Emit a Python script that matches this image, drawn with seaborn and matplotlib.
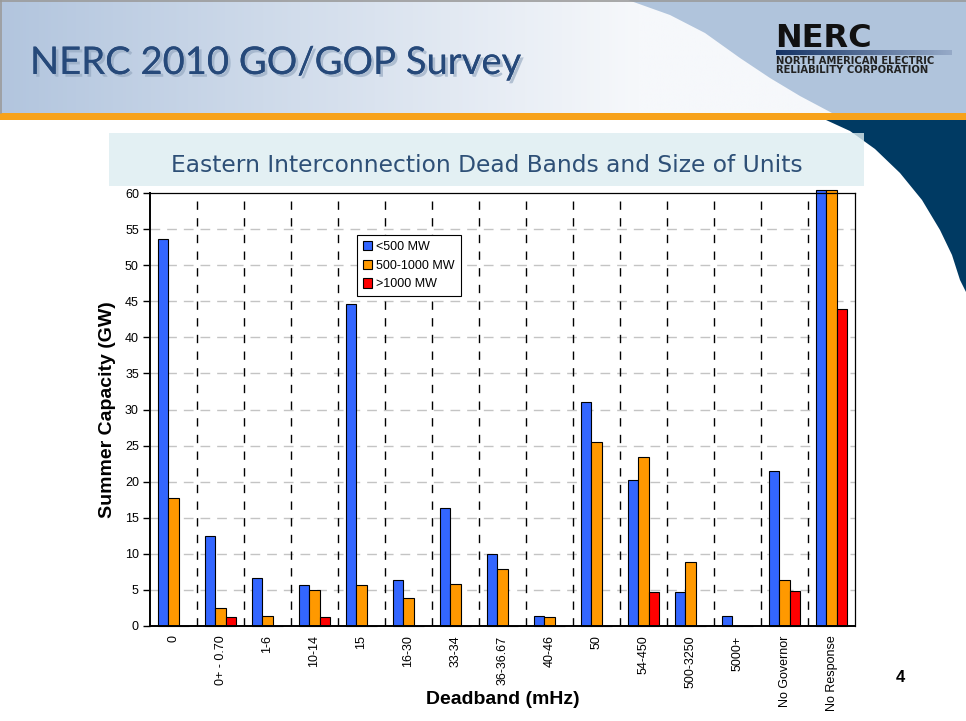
import numpy as np
import pandas as pd
import matplotlib
matplotlib.use("Agg")
import matplotlib.pyplot as plt
import seaborn as sns
from matplotlib.patches import Rectangle, Polygon
import matplotlib.patheffects as pe

# ---------------- data ----------------
categories = ["0", "0+ - 0.70", "1-6", "10-14", "15", "16-30", "33-34",
              "36-36.67", "40-46", "50", "54-450", "500-3250", "5000+",
              "No Governor", "No Response"]
lt500 = [53.7, 12.5, 6.6, 5.6, 44.6, 6.3, 16.4, 10.0, 1.4, 31.1, 20.2, 4.7, 1.4, 21.4, 60.4]
mid500_1000 = [17.7, 2.4, 1.3, 5.0, 5.6, 3.8, 5.8, 7.9, 1.2, 25.5, 23.4, 8.8, 0.0, 6.4, 60.4]
gt1000 = [0.0, 1.2, 0.0, 1.2, 0.0, 0.0, 0.0, 0.0, 0.0, 0.0, 4.7, 0.0, 0.0, 4.8, 43.9]
series_names = ["<500 MW", "500-1000 MW", ">1000 MW"]
series_colors = ["#3366FF", "#FF9900", "#FF0000"]
y_ticks = list(range(0, 65, 5))

df = pd.DataFrame({
    "Deadband": categories * 3,
    "Size": [series_names[0]] * 15 + [series_names[1]] * 15 + [series_names[2]] * 15,
    "Capacity": lt500 + mid500_1000 + gt1000,
})

sns.set_style("white")
plt.rcParams["font.family"] = ["Liberation Sans", "DejaVu Sans"]
plt.rcParams["text.color"] = "black"
plt.rcParams["axes.labelcolor"] = "black"
plt.rcParams["xtick.color"] = "black"
plt.rcParams["ytick.color"] = "black"

W, H = 966, 721
fig = plt.figure(figsize=(W / 100, H / 100), dpi=100)
fig.patch.set_facecolor("white")

# ---------------- slide background ----------------
bg = fig.add_axes([0, 0, 1, 1], zorder=0)
bg.set_xlim(0, W)
bg.set_ylim(H, 0)
bg.axis("off")

c0 = np.array([178, 197, 222]) / 255
c1 = np.array([246, 248, 251]) / 255
t = np.linspace(0, 1, 400)
t = np.clip(t / 0.66, 0, 1)
grad = (c0[None, :] * (1 - t[:, None]) + c1[None, :] * t[:, None])[None, :, :]
bg.imshow(grad, extent=[0, W, 113, 0], aspect="auto", zorder=0)
bg.add_patch(Polygon([(628, 0), (670, 15), (705, 33), (740, 58), (770, 78),
                      (800, 96), (832, 113), (W, 113), (W, 0)],
                     closed=True, facecolor="#B0C4DC", edgecolor="none", zorder=1))
bg.add_patch(Rectangle((0, 113), W, 7, facecolor="#F7A21B", edgecolor="none", zorder=2))
bg.add_patch(Polygon([(826, 120), (850, 131), (875, 149), (900, 173), (922, 200),
                      (940, 230), (952, 255), (960, 280), (W, 292), (W, 120)],
                     closed=True, facecolor="#003A63", edgecolor="none", zorder=1))
bg.add_patch(Rectangle((109, 133), 755, 53, facecolor="#DDEDF0", edgecolor="none",
                       alpha=0.8, zorder=3))
bg.plot([0, W], [0.5, 0.5], color="#9A9A9A", lw=1.2, zorder=4)
bg.plot([0.5, 0.5], [0, 113], color="#9A9A9A", lw=1.2, zorder=4)

# title
bg.text(30, 74, "NERC 2010 GO/GOP Survey", fontsize=27.5, family=["Lato", "DejaVu Sans"],
        color="#26497A", ha="left", va="baseline", zorder=5,
        path_effects=[pe.withSimplePatchShadow(offset=(2, -2), shadow_rgbFace="#8FA3BC", alpha=0.6),
                      pe.Normal()])

# logo
bg.text(775, 47, "NERC", fontsize=23, fontweight="bold", family=["DejaVu Sans"],
        color="#111111", ha="left", va="baseline", zorder=5)
lg = np.linspace(0, 1, 200)
lc0 = np.array([20, 50, 100]) / 255
lc1 = np.array([150, 170, 200]) / 255
lgrad = (lc0[None, :] * (1 - lg[:, None]) + lc1[None, :] * lg[:, None])[None, :, :]
bg.imshow(lgrad, extent=[776, 952, 55, 50], aspect="auto", zorder=5)
bg.text(776, 64, "NORTH AMERICAN ELECTRIC", fontsize=7.2, fontweight="bold",
        family=["DejaVu Sans"], color="#222222", ha="left", va="baseline", zorder=5)
bg.text(776, 73, "RELIABILITY CORPORATION", fontsize=7.2, fontweight="bold",
        family=["DejaVu Sans"], color="#222222", ha="left", va="baseline", zorder=5)

# chart subtitle
bg.text(487, 165, "Eastern Interconnection Dead Bands and Size of Units", fontsize=16.8,
        family=["DejaVu Sans"], color="#2E5077", ha="center", va="center", zorder=5)

# page number
bg.text(900, 677, "4", fontsize=12, fontweight="bold", ha="center", va="center", zorder=5)

# ---------------- chart ----------------
left, right, bottom, top = 150 / W, 855 / W, 1 - 625.7 / H, 1 - 193.3 / H
ax = fig.add_axes([left, bottom, right - left, top - bottom], zorder=2)
ax.set_facecolor("white")

for yv in y_ticks[1:-1]:
    ax.axhline(yv, color="#C4C4C4", lw=1.0, linestyle=(0, (7, 5)), zorder=0.5)
for xv in np.arange(0.5, len(categories) - 1, 1):
    ax.axvline(xv, color="black", lw=1.0, linestyle=(0, (6, 6)), zorder=0.6)

sns.barplot(data=df, x="Deadband", y="Capacity", hue="Size", order=categories,
            hue_order=series_names, palette=dict(zip(series_names, series_colors)),
            width=0.67, gap=0, edgecolor="black", linewidth=0.8, saturation=1,
            ax=ax, zorder=2)
for p in ax.patches:
    p.set_clip_on(False)

ax.set_xlim(-0.5, len(categories) - 0.5)
ax.set_ylim(0, 60)
ax.set_yticks(y_ticks)
ax.set_yticklabels([str(v) for v in y_ticks], fontsize=9)
ax.set_xticks(range(len(categories)))
ax.set_xticklabels(categories, rotation=90, fontsize=9)
ax.set_xticks(np.arange(-0.5, len(categories), 1), minor=True)
ax.tick_params(axis="x", which="major", length=0, pad=7)
ax.tick_params(axis="x", which="minor", length=5, width=1, direction="inout", color="black")
ax.tick_params(axis="y", which="major", length=5, width=1, direction="out", color="black", pad=3, left=True)
ax.set_xlabel("")
ax.set_ylabel("")
for s in ["left", "bottom"]:
    ax.spines[s].set_color("black")
    ax.spines[s].set_linewidth(1.4)
for s in ["top", "right"]:
    ax.spines[s].set_color("black")
    ax.spines[s].set_linewidth(0.9)

fig.text(503 / W, 1 - 700 / H, "Deadband (mHz)", fontsize=14, fontweight="bold",
         ha="center", va="center", color="black")
fig.text(107 / W, 1 - 410 / H, "Summer Capacity (GW)", fontsize=14, fontweight="bold",
         ha="center", va="center", rotation=90, color="black")

leg = ax.legend(loc="upper left", bbox_to_anchor=(357 / W, 1 - 235 / H),
                bbox_transform=fig.transFigure, frameon=True, fancybox=False,
                edgecolor="black", framealpha=1, fontsize=9, handlelength=0.75,
                handleheight=0.75, borderpad=0.45, labelspacing=0.55,
                handletextpad=0.35, borderaxespad=0)
leg.get_frame().set_linewidth(0.8)
leg.set_zorder(5)

fig.savefig("out.png", dpi=100)
